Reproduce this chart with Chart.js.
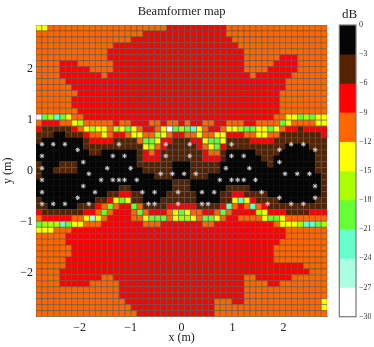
<!DOCTYPE html>
<html>
<head>
<meta charset="utf-8">
<title>Beamformer map</title>
<script src="https://cdn.jsdelivr.net/npm/chart.js@4"></script>
<style>
html, body { margin: 0; padding: 0; background: #fff; overflow: hidden; }
#wrap { position: relative; width: 374px; height: 347px; }
#mapChart { position: absolute; left: 0; top: 0; }
#barChart { position: absolute; left: 328px; top: 0; }
</style>
</head>
<body>
<div id="wrap">
<canvas id="mapChart" width="374" height="347"></canvas>
<canvas id="barChart" width="46" height="347"></canvas>
</div>
<script>
// each digit is the dB band of one cell (0: 0..-3, 1: -3..-6, ... 9: -27..-30), top row first
const mapRows = [
  '4433333333 3333333333 3322222222 2233333333 333333333',
  '3333333333 3333333322 2222222222 2233333333 333333333',
  '3333333333 3333332222 2222222222 2223333333 333333333',
  '3333333333 3332222222 2222222222 2222333333 333333333',
  '3333333333 3322222222 2222222222 2222233333 333333333',
  '3333333333 3322222222 2222222222 2222233333 322233333',
  '3333222333 3332222222 2222222222 2222233333 222233333',
  '3333222223 3332222222 2222222222 2222233332 222233333',
  '3333222222 2322222222 2222222222 2222223222 222333333',
  '3333322222 2222222222 2222222222 2222222222 223333333',
  '3333332222 2222222222 2222222222 2222222222 223333333',
  '3333333222 2222222222 2222222222 2222222222 233333333',
  '3333332222 2222222222 2222222222 2222222222 233333333',
  '3333332222 2222222222 2222222222 2222222222 233333333',
  '3333333222 2222222222 2222222222 2222222222 233333333',
  '9657643322 2222222222 2222222222 2222222222 334465644',
  '3222334533 3332332223 3233232233 2233322333 364333344',
  '2111112345 4435464322 3496567432 2344566446 432212222',
  '1110011123 3432234433 5432233433 4422233443 311111112',
  '1000000012 2221111366 4221112246 6411112222 111111111',
  '0000000011 1111111145 3211111234 6211111111 110000111',
  '0000000001 1000000123 2111111123 3100000111 100000011',
  '0000000000 0000000122 2111111122 2100000011 000000011',
  '1000111000 0000000111 1110001111 1000000001 000000011',
  '1001111000 0000000011 1110001111 1000000000 000000011',
  '1000000000 0000000000 1110001110 0000000000 000000001',
  '0000000000 0000000000 0001110000 0000000000 000000001',
  '0000000000 0000110000 0001110000 0011110000 000000001',
  '0000000000 0011221100 0011111000 0112211110 000000001',
  '1000000000 1124641100 0111111000 0114742111 100000011',
  '1100000111 2363226311 1122222111 1273237321 111111111',
  '2111111122 3632223632 2234643322 3632222542 221111222',
  '3222223348 4322223346 6634554366 4322333346 643333333',
  '6555764433 3222222233 3222222233 2222222222 344457765',
  '4443332222 2222222222 2222222222 2222222222 223333333',
  '3333322222 2222222222 2222222222 2222222222 223333333',
  '3333322222 2222222222 2222222222 2222222222 233333333',
  '3333332222 2222222222 2222222222 2222222222 333333333',
  '3333332222 2222222222 2222222222 2222222222 333333333',
  '3333322222 2222222222 2222222222 2222222222 333333333',
  '3333322222 2222222222 2222222222 2222222222 222223333',
  '3333222222 2222222222 2222222222 2222222222 222222333',
  '3333222222 2332222222 2222222222 2222233222 222333333',
  '3333222223 3333222222 2222222222 2222233332 233333333',
  '3333333333 3333222222 2222222222 2222233333 333333333',
  '3333333333 3333222222 2222222222 2222233333 333333333',
  '3333333333 3333322222 2222222222 3332233333 333333334',
  '3333333333 3333332222 2222222222 3333333333 333333334',
  '3333333333 3333333222 2222222222 3333333333 333333333'
];

const xStart = -2.8;
const yStart = 2.8;
const cellStep = 5.6 / 48;
const axisTicks = [-2, -1, 0, 1, 2];

// microphone positions in metres
const micX = [-2.74, -2.52, -2.29, -2.04, -1.23, -0.31, -2.74, -1.35, -1.12, -0.31, -1.93, -2.74, -1.46, -1.00, -1.82, -0.41, -0.18,
  -1.58, -1.35, -1.23, -1.12, -0.88, -1.93, -2.74, -2.74, -1.70, -0.77, -0.53, -2.04, -2.74, -2.52, -2.29, -1.82, -0.65, -0.53,
  0.16, 0.98, 1.92, 2.15, 2.39, 2.62, 0.16, 0.98, 1.22, 0.87, 1.33, 1.92, 0.05, 0.28, 0.75, 0.98, 1.10, 1.22, 1.45, 2.03, 2.27, 2.51,
  2.62, -0.07, 0.40, 0.64, 1.57, 1.92, 2.62, -0.07, 0.40, 0.52, 1.69, 2.15, 2.39];
const micY = [0.52, 0.52, 0.52, 0.41, 0.52, 0.52, 0.29, 0.29, 0.29, 0.29, 0.17, 0.05, 0.05, 0.05, -0.06, -0.06, -0.06,
  -0.18, -0.18, -0.18, -0.18, -0.18, -0.30, -0.18, -0.42, -0.42, -0.42, -0.42, -0.53, -0.65, -0.65, -0.65, -0.65, -0.65, -0.65,
  0.52, 0.52, 0.41, 0.52, 0.52, 0.41, 0.29, 0.29, 0.29, 0.05, 0.05, 0.17, -0.06, -0.06, -0.18, -0.18, -0.18, -0.18, -0.18, -0.06, -0.06, -0.06,
  -0.30, -0.42, -0.42, -0.42, -0.42, -0.53, -0.53, -0.65, -0.65, -0.65, -0.65, -0.65, -0.65];

const bandColors = ['#050505', '#552200', '#ff0000', '#ff6600', '#ffff00', '#aaff00', '#66ff33', '#66ffcc', '#aaffe0', '#ffffff'];
const bandTops = [0, -3, -6, -9, -12, -15, -18, -21, -24, -27];

const serif = '"Liberation Serif", "Times New Roman", serif';

function minusSign(value) {
    return String(value).replace('-', '\u2212');
}

// builds the cell points from the rows
function buildCells() {
    const cells = [];
    mapRows.forEach((row, r) => {
        row.replace(/ /g, '').split('').forEach((digit, c) => {
            const band = Number(digit);
            cells.push({ x: xStart + c * cellStep, y: yStart - r * cellStep, v: bandTops[band] - 1.5 });
        });
    });
    return cells;
}

function colorForValue(v) {
    return bandColors[Math.floor(-v / 3)];
}

// only whole metres on the axes
function keepAxisTicks(scale) {
    scale.ticks = axisTicks.map(v => ({ value: v }));
}

new Chart(document.getElementById('mapChart').getContext('2d'), {
    type: 'scatter',
    data: {
        datasets: [
            {
                label: 'microphones',
                data: micX.map((x, i) => ({ x: x, y: micY[i] })),
                pointStyle: 'star',
                pointRadius: 2.3,
                borderColor: '#cfcfcf',
                backgroundColor: '#cfcfcf',
                borderWidth: 1,
                order: 0
            },
            {
                label: 'dB',
                data: buildCells(),
                pointStyle: 'rect',
                pointRadius: 4.207,
                backgroundColor: ctx => colorForValue(ctx.raw.v),
                borderColor: ctx => ctx.raw.v > -3 ? '#0c0c0c' : 'rgba(85,85,85,0.7)',
                borderWidth: 0.8,
                order: 1
            }
        ]
    },
    options: {
        responsive: false,
        animation: false,
        events: [],
        layout: { padding: { left: 0, right: 10.8, top: 0, bottom: 1.5 } },
        plugins: {
            legend: { display: false },
            tooltip: { enabled: false },
            title: {
                display: true,
                text: 'Beamformer map',
                color: '#222',
                font: { family: serif, size: 12.5, weight: 'normal' },
                padding: { top: 4.5, bottom: 5.5 }
            }
        },
        scales: {
            x: {
                type: 'linear',
                min: -2.858,
                max: 2.858,
                afterFit: scale => { scale.height = 29; },
                afterBuildTicks: keepAxisTicks,
                grid: { display: false, drawTicks: false },
                border: { color: '#999', width: 1 },
                ticks: {
                    color: '#222',
                    padding: 4,
                    maxRotation: 0,
                    font: { family: serif, size: 12 },
                    callback: minusSign
                },
                title: {
                    display: true,
                    text: 'x (m)',
                    color: '#222',
                    font: { family: serif, size: 12 },
                    padding: 0
                }
            },
            y: {
                type: 'linear',
                min: -2.858,
                max: 2.858,
                afterFit: scale => { scale.width = 36; },
                afterBuildTicks: keepAxisTicks,
                grid: { display: false, drawTicks: false },
                border: { color: '#666', width: 1 },
                ticks: {
                    color: '#222',
                    padding: 3,
                    font: { family: serif, size: 12 },
                    callback: minusSign
                },
                title: {
                    display: true,
                    text: 'y (m)',
                    color: '#222',
                    font: { family: serif, size: 12 },
                    padding: 1
                }
            },
            // empty axis, keeps room for the colour bar on the right
            spacer: {
                type: 'linear',
                position: 'right',
                afterFit: scale => { scale.width = 36; },
                grid: { display: false, drawTicks: false },
                border: { display: false },
                ticks: { display: false }
            }
        }
    }
});

// frame round the colour bar
const barFrame = {
    id: 'barFrame',
    afterDatasetsDraw(chart) {
        const a = chart.chartArea;
        const ctx = chart.ctx;
        ctx.save();
        ctx.strokeStyle = '#777';
        ctx.lineWidth = 1.2;
        ctx.strokeRect(a.left, a.top, a.right - a.left, a.bottom - a.top);
        ctx.restore();
    }
};

new Chart(document.getElementById('barChart').getContext('2d'), {
    type: 'bar',
    data: {
        labels: ['dB'],
        datasets: bandTops.map((top, i) => ({
            label: String(top),
            data: [[top - 3, top]],
            backgroundColor: bandColors[i],
            borderWidth: 0,
            barPercentage: 1,
            categoryPercentage: 1
        }))
    },
    plugins: [barFrame],
    options: {
        responsive: false,
        animation: false,
        events: [],
        layout: { padding: { left: 0, right: 3, top: 0, bottom: 30.3 } },
        plugins: {
            legend: { display: false },
            tooltip: { enabled: false },
            title: {
                display: true,
                text: 'dB',
                color: '#222',
                font: { family: serif, size: 13, weight: 'normal' },
                padding: { top: 7.2, bottom: 2.2 }
            }
        },
        scales: {
            x: {
                stacked: true,
                display: false
            },
            y: {
                position: 'right',
                min: -30,
                max: 0,
                afterFit: scale => { scale.width = 15; },
                grid: { display: false, drawTicks: false },
                border: { display: false },
                ticks: {
                    stepSize: 3,
                    color: '#333',
                    padding: 3,
                    font: { family: serif, size: 8 },
                    callback: minusSign
                }
            },
            // empty axis, puts the bar at its place in the canvas
            spacer: {
                type: 'linear',
                position: 'left',
                afterFit: scale => { scale.width = 11.3; },
                grid: { display: false, drawTicks: false },
                border: { display: false },
                ticks: { display: false }
            }
        }
    }
});
</script>
</body>
</html>
